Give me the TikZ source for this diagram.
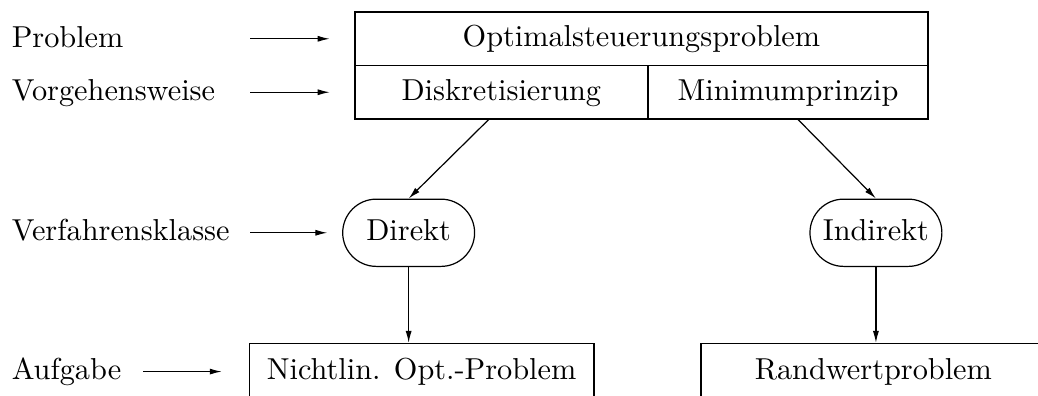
\documentclass[tikz,border=0pt]{standalone}
\usetikzlibrary{arrows.meta,positioning}
\begin{document}
\begin{tikzpicture}

      \tikzset{cell/.style={draw, line width=0.5pt, outer sep=0pt, inner sep=0pt, minimum height=0.62cm, text height=1.5ex, text depth=0.25ex},
               method/.style={draw, rounded corners=0.39cm, inner sep=0pt, minimum width=1.53cm, minimum height=0.78cm, text height=1.5ex, text depth=0.25ex},
               task/.style={draw, inner sep=0pt, minimum width=4.0cm, minimum height=0.65cm, text height=1.5ex, text depth=0.25ex},
               level/.style={anchor=west, inner sep=0pt, text height=1.5ex, text depth=0.25ex},
               arr/.style={-{Latex[length=1.4mm,width=0.7mm]}}}
      \useasboundingbox (0,0) rectangle (12.04,4.59);
%% Top box
      	\node[cell, minimum width=6.65cm] (opt) at (7.44,4.14) {Optimalsteuerungsproblem};
      	\node[cell, minimum width=3.40cm, anchor=north west] (disk) at (opt.south west) {Diskretisierung};
      	\node[cell, minimum width=3.25cm, right=0pt of disk] (minp) {Minimumprinzip};
%% Methods and tasks
      	\node[method] (direkt) at (4.74,1.89) {Direkt};
      	\node[method] (indirekt) at (10.16,1.89) {Indirekt};
      	\node[task] (nlp) at (4.89,0.28) {Nichtlin. Opt.-Problem};
      	\node[task] (rwp) at (10.13,0.28) {Randwertproblem};
%% Levels
      	\node[level] (lprob) at (0.13,4.13) {Problem};
      	\node[level] (lvorg) at (0.13,3.52) {Vorgehensweise};
      	\node[level] (lverf) at (0.13,1.89) {Verfahrensklasse};
      	\node[level] (laufg) at (0.13,0.28) {Aufgabe};
      	\coordinate (aprob) at (2.90,4.14);
      	\coordinate (avorg) at (2.90,3.52);
      	\coordinate (averf) at (2.90,1.89);
      	\coordinate (aaufg) at (1.66,0.28);
%Arrows
		\draw[arr, shorten >=0.29cm] (aprob) -- (aprob -| opt.west);
		\draw[arr, shorten >=0.29cm] (avorg) -- (avorg -| disk.west);
		\draw[arr, shorten >=0.17cm] (averf) -- (averf -| direkt.west);
		\draw[arr, shorten >=0.31cm] (aaufg) -- (aaufg -| nlp.west);
		\draw[arr] ([xshift=-0.14cm]disk.south) -- (direkt.north);
		\draw[arr] ([xshift=0.11cm]minp.south) -- (indirekt.north);
		\draw[arr] (direkt.south) -- (direkt.south |- nlp.north);
		\draw[arr] (indirekt.south) -- (indirekt.south |- rwp.north);

	\end{tikzpicture}
\end{document}
